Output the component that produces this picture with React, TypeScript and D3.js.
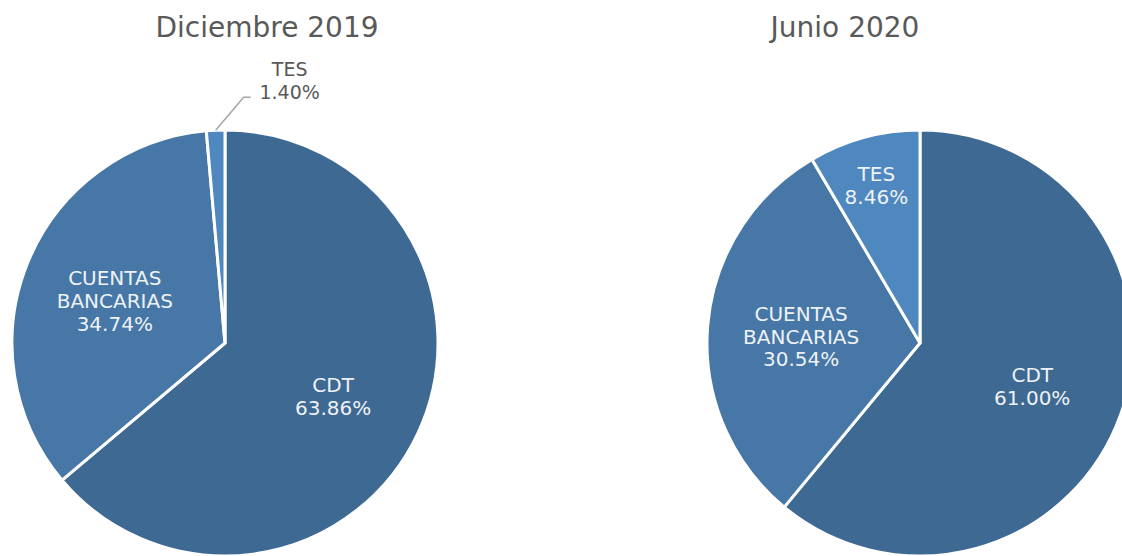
import React from 'react';
import * as d3 from 'd3';

const categories = ['CDT', 'CUENTAS BANCARIAS', 'TES'];
const dec2019 = [63.86, 34.74, 1.4];
const jun2020 = [61.0, 30.54, 8.46];
const titles = ['Diciembre 2019', 'Junio 2020'];

const colors = ['#3e6992', '#4677a6', '#4e88be'];
const font = '"DejaVu Sans", Verdana, sans-serif';

const W = 1122;
const H = 556;
const R = 213;

type PieProps = { cx: number; cy: number; values: number[]; title: string; titleX: number };

const Pie = ({ cx, cy, values, title, titleX }: PieProps) => {
  const rows = categories.map((c, i) => ({ name: c, value: values[i] }));
  const pie = d3.pie<{ name: string; value: number }>().sort(null).value(d => d.value);
  const arc = d3.arc<d3.PieArcDatum<{ name: string; value: number }>>().innerRadius(0).outerRadius(R);
  const arcs = pie(rows);

  return (
    <g>
      <text x={titleX} y={37} textAnchor="middle" fontSize={28} fill="#595959" fontFamily={font}>
        {title}
      </text>
      <g transform={`translate(${cx},${cy})`}>
        {arcs.map((a, i) => (
          <path key={i} d={arc(a) || ''} fill={colors[i]} stroke="#ffffff" strokeWidth={3} strokeLinejoin="round" />
        ))}
        {arcs.map((a, i) => {
          const mid = (a.startAngle + a.endAngle) / 2;
          const lines = [...a.data.name.split(' '), a.data.value.toFixed(2) + '%'];
          if (a.data.value < 5) {
            // small slice: label outside with a leader line
            const sx = R * Math.sin(mid);
            const sy = -R * Math.cos(mid);
            const ex = sx + 28;
            const ey = sy - 33;
            const tx = ex + 46;
            return (
              <g key={'l' + i}>
                <polyline
                  points={`${sx},${sy} ${ex},${ey} ${ex + 7},${ey}`}
                  fill="none"
                  stroke="#a6a6a6"
                  strokeWidth={1.5}
                />
                {lines.map((t, j) => (
                  <text
                    key={j}
                    x={tx}
                    y={ey + 2 - (lines.length - 1 - j) * 23}
                    textAnchor="middle"
                    fontSize={19}
                    fill="#595959"
                    fontFamily={font}
                  >
                    {t}
                  </text>
                ))}
              </g>
            );
          }
          const lr = a.data.value < 10 ? R * 0.78 : R * 0.56;
          const lx = lr * Math.sin(mid);
          const ly = -lr * Math.cos(mid);
          return (
            <g key={'l' + i}>
              {lines.map((t, j) => (
                <text
                  key={j}
                  x={lx}
                  y={ly + 10 + (j - (lines.length - 1) / 2) * 23}
                  textAnchor="middle"
                  fontSize={20}
                  fill="#eef2f6"
                  fontFamily={font}
                >
                  {t}
                </text>
              ))}
            </g>
          );
        })}
      </g>
    </g>
  );
};

export default function App() {
  return (
    <svg
      width={W}
      height={H}
      viewBox={`0 0 ${W} ${H}`}
      style={{ position: 'absolute', left: 0, top: 0, background: '#ffffff' }}
    >
      <Pie cx={225} cy={343} values={dec2019} title={titles[0]} titleX={267} />
      <Pie cx={920} cy={343} values={jun2020} title={titles[1]} titleX={845} />
    </svg>
  );
}
